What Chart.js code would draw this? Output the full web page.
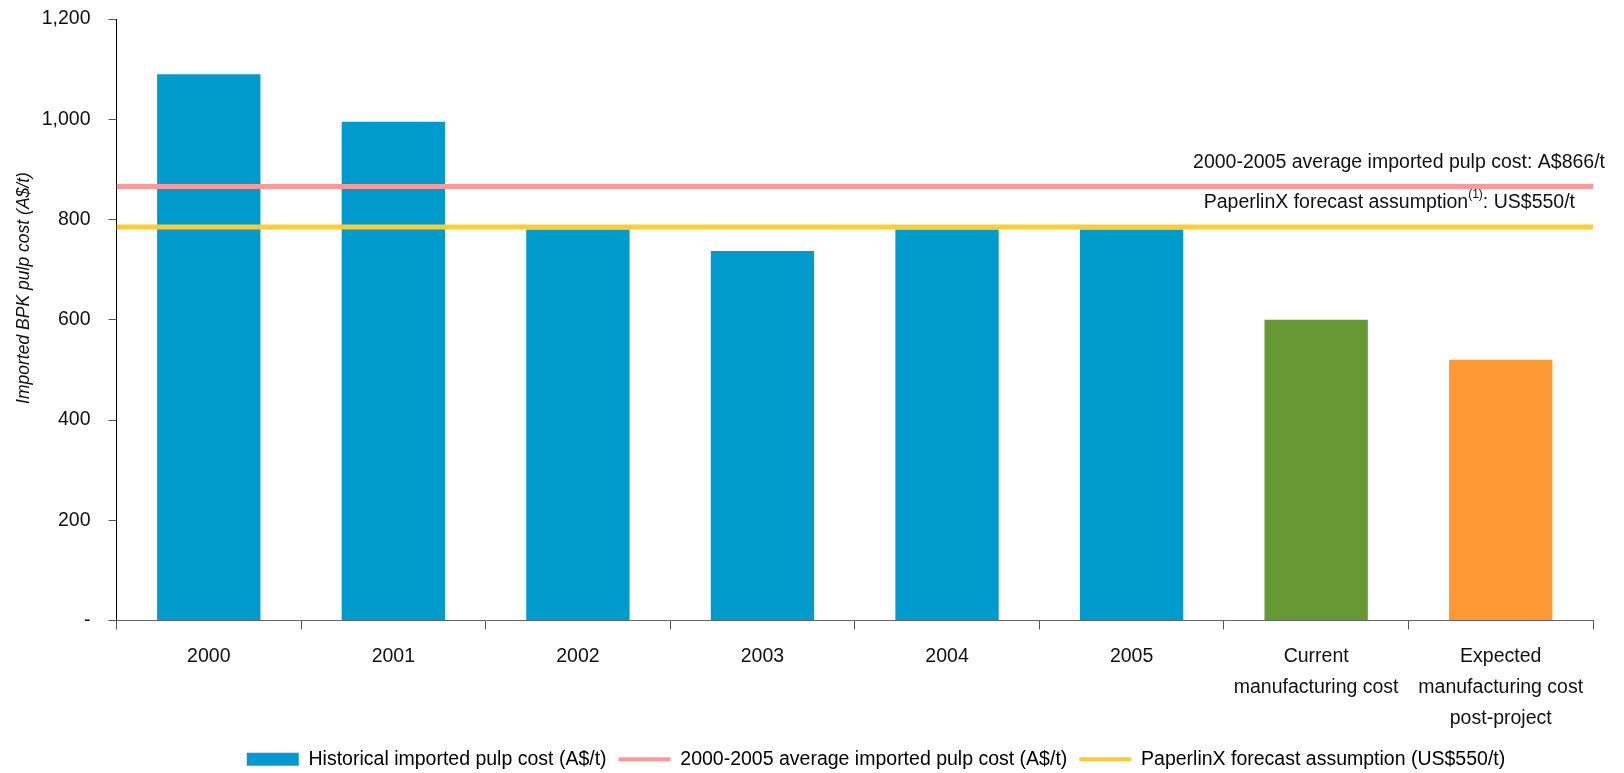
<!DOCTYPE html>
<html>
<head>
<meta charset="utf-8">
<script src="https://cdn.jsdelivr.net/npm/chart.js@4"></script>
<style>
  body { margin: 0; background: #fff; }
  #wrap { width: 1624px; height: 773px; }
</style>
</head>
<body>
<div id="wrap"><canvas id="pulpChart"></canvas></div>
<script>
// data
const categories = ['2000', '2001', '2002', '2003', '2004', '2005',
  ['Current', 'manufacturing cost'],
  ['Expected', 'manufacturing cost', 'post-project']];
const pulpCost = [1090, 995, 780, 737, 780, 780, 600, 520];
const avgCost = 866;       // 2000-2005 average, A$/t
const forecastCost = 785;  // PaperlinX US$550/t in A$
const yTicks = [0, 200, 400, 600, 800, 1000, 1200];

const barColors = ['#009BCC', '#009BCC', '#009BCC', '#009BCC', '#009BCC', '#009BCC', '#669933', '#FF9933'];
const pink = '#FF9999';
const yellow = '#FFCC33';

// pick a narrow face if there is one
function hasFont(name) {
  const c = document.createElement('canvas').getContext('2d');
  const s = 'Historical imported pulp cost 2000';
  c.font = '40px monospace';
  const a = c.measureText(s).width;
  c.font = '40px "' + name + '", monospace';
  return c.measureText(s).width !== a;
}
let family = '"Liberation Sans", Arial, sans-serif';
let size = 19.5;
for (const f of ['Liberation Sans Narrow', 'Arial Narrow']) {
  if (hasFont(f)) { family = '"' + f + '", sans-serif'; size = 23.5; break; }
}
Chart.defaults.font.family = family;
Chart.defaults.font.size = size;
Chart.defaults.color = '#111';

const lineNotes = {
  id: 'lineNotes',
  afterDatasetsDraw(chart) {
    const ctx = chart.ctx;
    const area = chart.chartArea;
    const y = chart.scales.y;
    ctx.save();
    ctx.fillStyle = '#111';
    ctx.textBaseline = 'middle';
    ctx.font = size + 'px ' + family;
    ctx.textAlign = 'right';
    ctx.fillText('2000-2005 average imported pulp cost: A$' + avgCost + '/t', area.right + 12, y.getPixelForValue(avgCost) - 24);

    // PaperlinX note with superscript (1)
    const ty = y.getPixelForValue(forecastCost) - 24;
    const p1 = 'PaperlinX forecast assumption';
    const p2 = '(1)';
    const p3 = ': US$550/t';
    const supFont = Math.round(size * 0.6) + 'px ' + family;
    ctx.textAlign = 'left';
    const w1 = ctx.measureText(p1).width;
    const w3 = ctx.measureText(p3).width;
    ctx.font = supFont;
    const w2 = ctx.measureText(p2).width;
    let x = area.right - 18 - (w1 + w2 + w3);
    ctx.font = size + 'px ' + family;
    ctx.fillText(p1, x, ty);
    x += w1;
    ctx.font = supFont;
    ctx.fillText(p2, x, ty - size * 0.45);
    x += w2;
    ctx.font = size + 'px ' + family;
    ctx.fillText(p3, x, ty);

    // y axis title
    ctx.translate(24, 288);
    ctx.rotate(-Math.PI / 2);
    ctx.textAlign = 'center';
    ctx.font = 'italic ' + (size * 0.9) + 'px ' + family;
    ctx.fillText('Imported BPK pulp cost (A$/t)', 0, 0);
    ctx.restore();
  }
};

const legendShift = {
  id: 'legendShift',
  afterLayout(chart) {
    const l = chart.legend;
    const dx = 876 - (l.left + l.right) / 2;
    l.left += dx; l.right += dx;
    l.top += 6; l.bottom += 6;
  }
};

new Chart(document.getElementById('pulpChart'), {
  type: 'bar',
  data: {
    labels: categories,
    datasets: [
      {
        type: 'bar',
        label: 'Historical imported pulp cost (A$/t)',
        data: pulpCost,
        backgroundColor: barColors,
        categoryPercentage: 1,
        barPercentage: 0.56,
        grouped: false,
        order: 2
      },
      {
        type: 'line',
        label: '2000-2005 average imported pulp cost (A$/t)',
        data: [{ x: 0, y: avgCost }, { x: 1, y: avgCost }],
        xAxisID: 'x2',
        borderColor: pink,
        borderWidth: 5,
        pointRadius: 0,
        order: 1
      },
      {
        type: 'line',
        label: 'PaperlinX forecast assumption (US$550/t)',
        data: [{ x: 0, y: forecastCost }, { x: 1, y: forecastCost }],
        xAxisID: 'x2',
        borderColor: yellow,
        borderWidth: 5,
        pointRadius: 0,
        order: 0
      }
    ]
  },
  options: {
    responsive: true,
    maintainAspectRatio: false,
    animation: false,
    layout: { padding: { left: 0, right: 31, top: 19, bottom: 0 } },
    plugins: {
      tooltip: { enabled: false },
      legend: {
        position: 'bottom',
        labels: {
          usePointStyle: true,
          pointStyleWidth: 52,
          boxHeight: 13,
          padding: 12,
          generateLabels: chart => chart.data.datasets.map((ds, i) => ({
            text: ds.label,
            datasetIndex: i,
            fillStyle: ds.type === 'line' ? ds.borderColor : barColors[0],
            strokeStyle: ds.type === 'line' ? ds.borderColor : barColors[0],
            lineWidth: ds.type === 'line' ? 4 : 0,
            pointStyle: ds.type === 'line' ? 'line' : 'rect',
            hidden: false
          }))
        }
      }
    },
    scales: {
      x: {
        offset: true,
        grid: { offset: true, drawOnChartArea: false, tickLength: 9, color: '#555' },
        border: { color: '#666' },
        ticks: { padding: 12, maxRotation: 0, autoSkip: false, font: { lineHeight: 1.59 } },
        afterFit: s => { s.height = 111; }
      },
      x2: { type: 'linear', min: 0, max: 1, offset: false, display: false },
      y: {
        min: yTicks[0],
        max: yTicks[yTicks.length - 1],
        afterBuildTicks: s => { s.ticks = yTicks.map(v => ({ value: v })); },
        ticks: {
          padding: 18,
          callback: v => v === 0 ? '-' : v.toLocaleString('en-US')
        },
        grid: { drawOnChartArea: false, tickLength: 8, color: '#555' },
        border: { color: '#000' },
        afterFit: s => { s.width = 116.5; s.paddingTop = 10; s.paddingBottom = 10; }
      }
    }
  },
  plugins: [lineNotes, legendShift]
});
</script>
</body>
</html>
